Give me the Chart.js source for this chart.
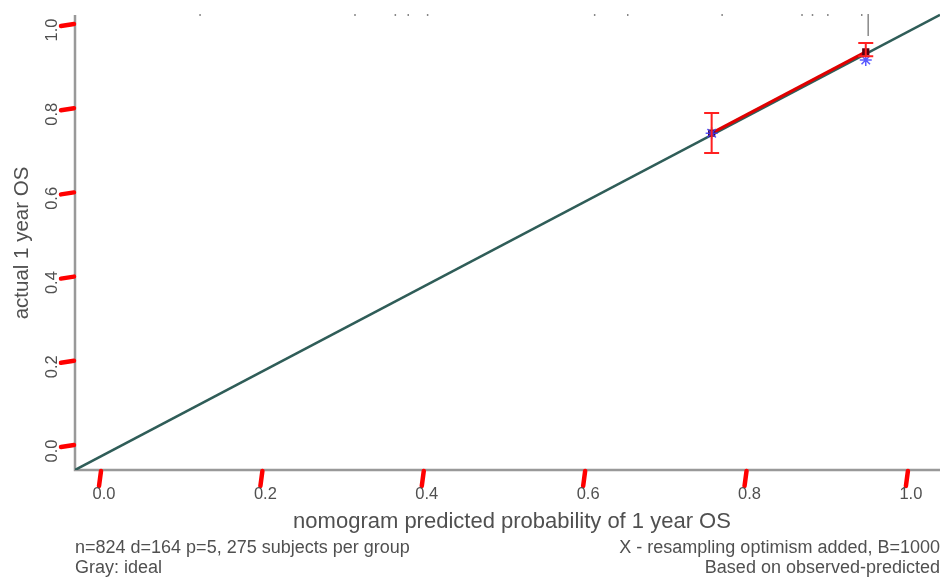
<!DOCTYPE html>
<html>
<head>
<meta charset="utf-8">
<script src="https://cdn.jsdelivr.net/npm/chart.js@4.4.0/dist/chart.umd.min.js"></script>
<style>
  html, body { margin: 0; padding: 0; background: #fff; }
</style>
</head>
<body>
<canvas id="calChart" width="948" height="579"></canvas>
<script>
// tick values and labels for both axes
var tickValues = [0, 0.2, 0.4, 0.6, 0.8, 1.0];
var tickLabels = ["0.0", "0.2", "0.4", "0.6", "0.8", "1.0"];

// gray ideal line (as it sits in the picture)
var idealX = [-0.031, 1.041];
var idealY = [-0.057, 1.024];

// calibration groups: mean predicted vs observed, with error bars
var predicted = [0.758, 0.949];
var observed = [0.743, 0.936];
var lower = [0.696, 0.926];
var upper = [0.791, 0.957];
// bias-corrected (X) estimates
var corrected = [0.743, 0.917];

// distribution of predictions shown as spikes along the top
var rugX = [0.124, 0.316, 0.366, 0.382, 0.406, 0.613, 0.654, 0.771, 0.870, 0.883, 0.902, 0.944, 0.952];
var rugLen = [2, 2, 2, 2, 2, 2, 2, 2, 2, 2, 2, 2, 22];

var toPoints = function (xs, ys) {
  return xs.map(function (x, i) { return { x: x, y: ys[i] }; });
};

var textColor = "#505050";

function drawText(ctx, txt, x, y, align, size) {
  ctx.save();
  ctx.font = size + "px 'Liberation Sans', Arial, sans-serif";
  ctx.fillStyle = textColor;
  ctx.textBaseline = "middle";
  ctx.textAlign = align;
  ctx.fillText(txt, x, y);
  ctx.restore();
}

var decorPlugin = {
  id: "decor",
  beforeDatasetsDraw: function (chart) {
    var ctx = chart.ctx;
    var a = chart.chartArea;
    var xs = chart.scales.x, ys = chart.scales.y;
    ctx.save();
    // axis lines
    ctx.strokeStyle = "#999";
    ctx.lineWidth = 2.5;
    ctx.beginPath();
    ctx.moveTo(a.left, a.top + 2);
    ctx.lineTo(a.left, a.bottom);
    ctx.lineTo(a.right, a.bottom);
    ctx.stroke();

    // rug spikes
    ctx.strokeStyle = "#888";
    ctx.lineWidth = 1.5;
    rugX.forEach(function (v, i) {
      var px = xs.getPixelForValue(v);
      ctx.beginPath();
      ctx.moveTo(px, a.top + 1);
      ctx.lineTo(px, a.top + 1 + rugLen[i]);
      ctx.stroke();
    });

    // red tick marks
    ctx.strokeStyle = "#ff0000";
    ctx.lineWidth = 4.5;
    ctx.lineCap = "round";
    tickValues.forEach(function (v) {
      var px = xs.getPixelForValue(v);
      ctx.beginPath();
      ctx.moveTo(px + 1, a.bottom + 1);
      ctx.lineTo(px - 1, a.bottom + 16);
      ctx.stroke();
      var py = ys.getPixelForValue(v);
      ctx.beginPath();
      ctx.moveTo(a.left - 14, py + 1);
      ctx.lineTo(a.left - 1, py - 1);
      ctx.stroke();
    });
    ctx.restore();

    // tick labels
    tickValues.forEach(function (v, i) {
      drawText(ctx, tickLabels[i], xs.getPixelForValue(v) + 4, a.bottom + 24, "center", 16.5);
      var py = ys.getPixelForValue(v);
      ctx.save();
      ctx.translate(a.left - 22.5, py + 5);
      ctx.rotate(-Math.PI / 2);
      drawText(ctx, tickLabels[i], 0, 0, "center", 16.5);
      ctx.restore();
    });

    // axis titles
    drawText(ctx, "nomogram predicted probability of 1 year OS", 512, 522, "center", 22);
    ctx.save();
    ctx.translate(22, 243);
    ctx.rotate(-Math.PI / 2);
    drawText(ctx, "actual 1 year OS", 0, 0, "center", 20.5);
    ctx.restore();

    // footnotes
    drawText(ctx, "n=824 d=164 p=5, 275 subjects per group", 75, 548, "left", 18);
    drawText(ctx, "Gray: ideal", 75, 568, "left", 18);
    drawText(ctx, "X - resampling optimism added, B=1000", 940, 548, "right", 18);
    drawText(ctx, "Based on observed-predicted", 940, 568, "right", 18);
  },
  afterDatasetsDraw: function (chart) {
    var ctx = chart.ctx;
    var xs = chart.scales.x, ys = chart.scales.y;
    ctx.save();
    ctx.strokeStyle = "#ff2020";
    ctx.lineWidth = 2;
    predicted.forEach(function (p, i) {
      var px = xs.getPixelForValue(p);
      var lo = ys.getPixelForValue(lower[i]);
      var hi = ys.getPixelForValue(upper[i]);
      ctx.beginPath();
      ctx.moveTo(px, lo); ctx.lineTo(px, hi);
      ctx.moveTo(px - 7.5, lo); ctx.lineTo(px + 7.5, lo);
      ctx.moveTo(px - 7.5, hi); ctx.lineTo(px + 7.5, hi);
      ctx.stroke();
    });
    ctx.restore();
  }
};

new Chart(document.getElementById("calChart").getContext("2d"), {
  type: "scatter",
  data: {
    datasets: [
      {
        label: "corrected",
        data: toPoints(predicted, corrected),
        pointStyle: "star",
        pointRadius: 6,
        borderColor: "rgba(60, 60, 255, 0.85)",
        borderWidth: 1.5,
        showLine: false,
        order: 1
      },
      {
        label: "apparent",
        data: toPoints(predicted, observed),
        showLine: true,
        borderColor: "#e00000",
        borderWidth: 3,
        pointStyle: "rect",
        pointRadius: 3,
        pointBackgroundColor: "#5a0010",
        pointBorderColor: "#5a0010",
        order: 2
      },
      {
        label: "ideal",
        data: toPoints(idealX, idealY),
        showLine: true,
        borderColor: "#2f5d58",
        borderWidth: 2.5,
        pointRadius: 0,
        order: 3
      }
    ]
  },
  options: {
    responsive: false,
    animation: false,
    layout: { padding: { left: 75, right: 8, top: 13, bottom: 109 } },
    plugins: { legend: { display: false }, tooltip: { enabled: false } },
    scales: {
      x: { type: "linear", min: -0.031, max: 1.041, display: false },
      y: { type: "linear", min: -0.057, max: 1.0285, display: false }
    }
  },
  plugins: [decorPlugin]
});
</script>
</body>
</html>
